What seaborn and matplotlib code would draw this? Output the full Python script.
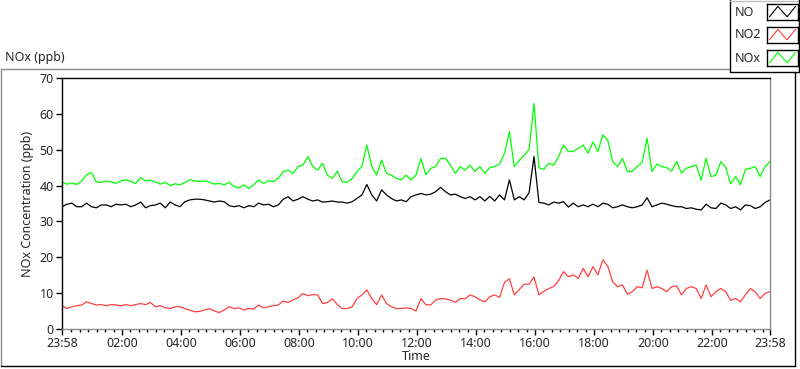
import numpy as np
import pandas as pd
import matplotlib
matplotlib.use("Agg")
import matplotlib.pyplot as plt
from matplotlib.lines import Line2D
import seaborn as sns

# ---------------- data (10-minute samples from 23:58 to 23:58) ----------------
minutes = list(range(0, 1441, 10))

no_ppb = [34.1, 34.8, 35.1, 34.1, 34.1, 35.1, 34.1, 33.8, 34.6, 34.6, 34.1, 34.8, 34.6, 34.8, 34.1, 34.6, 35.4, 33.8, 34.4, 34.6, 35.1, 33.8, 35.4, 34.6, 34.1, 35.5, 36.0, 36.2, 36.2,
          36.0, 35.7, 35.4, 35.7, 35.5, 34.4, 34.1, 34.4, 33.8, 34.4, 34.1, 35.1, 34.6, 34.8, 34.1, 34.6, 36.2, 36.9, 35.7, 36.2, 36.9, 36.2, 35.7, 36.0, 35.4, 35.5, 35.7, 35.4, 35.4,
          35.1, 35.5, 36.4, 37.4, 40.3, 37.4, 35.7, 38.8, 37.4, 36.4, 35.7, 36.0, 35.5, 36.9, 37.4, 37.8, 37.4, 37.6, 38.3, 39.5, 38.3, 37.4, 37.6, 36.9, 36.4, 36.9, 36.0, 36.9, 35.7,
          37.0, 35.7, 37.4, 36.0, 41.6, 36.0, 36.9, 36.0, 38.0, 48.1, 35.3, 35.1, 34.6, 35.4, 35.1, 35.5, 34.0, 35.1, 34.1, 34.6, 34.1, 34.8, 34.1, 35.1, 34.8, 33.8, 34.1, 34.6, 34.1,
          33.8, 34.1, 34.6, 36.6, 34.1, 34.6, 35.1, 34.8, 34.4, 34.1, 34.1, 33.6, 33.8, 33.4, 33.2, 34.8, 33.8, 33.6, 35.1, 34.6, 33.6, 34.1, 33.2, 34.6, 34.4, 33.6, 34.1, 35.3, 36.0]

no2_ppb = [6.5, 5.7, 6.2, 6.5, 6.7, 7.6, 7.1, 6.7, 6.8, 6.5, 6.8, 6.7, 6.5, 6.8, 6.5, 6.8, 7.1, 6.8, 7.4, 6.2, 6.5, 5.9, 5.7, 6.2, 6.2, 5.7, 5.2, 4.8, 4.9,
           5.3, 5.7, 5.0, 4.6, 5.3, 6.2, 5.7, 5.9, 5.3, 5.7, 5.6, 6.7, 5.9, 6.2, 6.5, 6.7, 7.8, 7.4, 8.1, 8.7, 9.9, 9.3, 9.6, 9.5, 7.1, 7.4, 8.4, 6.8, 5.7,
           5.7, 6.2, 8.5, 9.5, 10.9, 8.5, 6.8, 9.5, 7.1, 6.2, 5.7, 5.7, 5.9, 5.7, 5.0, 8.5, 6.8, 6.7, 8.1, 8.5, 8.4, 8.1, 7.4, 8.5, 8.4, 9.5, 9.0, 8.1, 7.6,
           9.0, 9.5, 8.8, 13.0, 14.0, 9.5, 11.0, 12.5, 12.5, 14.5, 9.5, 10.5, 11.3, 11.8, 13.5, 16.0, 14.6, 15.1, 14.1, 16.9, 14.6, 17.4, 15.1, 19.3, 17.5, 13.2, 11.8, 12.3, 9.7,
           10.4, 11.8, 11.5, 16.4, 11.3, 11.8, 11.3, 10.4, 11.8, 12.0, 9.5, 11.3, 11.8, 11.3, 8.5, 12.3, 9.0, 10.4, 11.3, 10.4, 8.0, 8.5, 7.6, 9.5, 11.3, 10.4, 8.5, 9.9, 10.4]

nox_ppb = [41.0, 40.4, 40.7, 40.3, 41.3, 43.0, 43.6, 41.0, 40.9, 41.3, 41.0, 40.6, 41.3, 41.6, 41.2, 40.6, 42.2, 41.3, 41.5, 41.0, 40.4, 40.9, 40.0, 40.5, 40.2, 40.8, 41.7, 41.3, 41.1,
           41.3, 40.9, 40.4, 40.6, 40.2, 40.9, 39.7, 39.4, 40.2, 39.2, 40.2, 41.6, 40.6, 41.3, 41.1, 42.0, 43.9, 44.3, 43.4, 45.3, 45.7, 48.1, 45.3, 44.3, 46.2, 42.9, 42.0, 44.0, 41.0,
           40.9, 42.0, 43.9, 45.3, 51.3, 45.3, 42.9, 47.1, 43.4, 42.9, 42.0, 41.6, 42.9, 41.6, 42.9, 47.5, 43.0, 44.8, 45.3, 47.6, 47.6, 45.7, 43.4, 45.3, 44.3, 45.7, 43.9, 45.3, 43.4,
           45.0, 45.3, 46.0, 49.0, 55.0, 45.3, 47.0, 48.5, 50.0, 62.9, 45.0, 44.5, 46.2, 45.7, 48.1, 51.3, 49.5, 49.5, 50.4, 51.3, 49.0, 52.2, 49.5, 54.1, 52.7, 46.7, 45.3, 47.6, 43.9,
           44.0, 45.3, 46.5, 53.2, 43.9, 46.0, 45.3, 45.0, 44.0, 46.7, 43.5, 44.8, 45.3, 45.7, 41.5, 47.6, 42.5, 42.9, 46.7, 45.0, 40.5, 42.5, 40.2, 44.5, 44.8, 45.3, 42.5, 45.3, 46.7]

series_names = ["NO", "NO2", "NOx"]
series_colors = ["#000000", "#FF4040", "#00FF00"]

tick_minutes = [0, 122, 242, 362, 482, 602, 722, 842, 962, 1082, 1202, 1322, 1440]
tick_labels = ["23:58", "02:00", "04:00", "06:00", "08:00", "10:00", "12:00",
               "14:00", "16:00", "18:00", "20:00", "22:00", "23:58"]
y_ticks = [0, 10, 20, 30, 40, 50, 60, 70]

df = pd.concat([
    pd.DataFrame({"minute": minutes, "value": vals, "series": name})
    for name, vals in zip(series_names, [no_ppb, no2_ppb, nox_ppb])
], ignore_index=True)

# ---------------- style ----------------
sns.set_style("white")
plt.rcParams["font.family"] = ["Noto Sans", "DejaVu Sans"]
FS = 9

W, H = 800, 369
fig = plt.figure(figsize=(W / 100, H / 100), dpi=100)
fig.patch.set_facecolor("white")

def fx(px):
    return px / W

def fy(py):
    return 1 - py / H

ax = fig.add_axes([fx(62), fy(329), fx(770) - fx(62), fy(78) - fy(329)])
sns.lineplot(data=df, x="minute", y="value", hue="series",
             palette=dict(zip(series_names, series_colors)),
             hue_order=series_names, estimator=None, legend=False,
             linewidth=0.9, ax=ax)

ax.set_xlim(0, 1440)
ax.set_ylim(0, 70)
ax.set_yticks(y_ticks)
ax.set_yticklabels([str(v) for v in y_ticks], fontsize=FS)
ax.set_xticks(tick_minutes)
ax.set_xticklabels(tick_labels, fontsize=FS)
minor = [m for m in np.arange(2, 1441, 120 / 7) if 2 < m < 1438]
ax.set_xticks(minor, minor=True)
ax.tick_params(axis="both", which="major", length=4, width=1, color="black",
               pad=2, direction="out")
ax.tick_params(axis="x", which="minor", length=2.5, width=1, color="black",
               direction="out", bottom=True)
ax.tick_params(axis="y", which="both", left=True)
ax.tick_params(axis="x", which="both", bottom=True)
ax.set_xlabel("Time", fontsize=FS, labelpad=0)
ax.set_ylabel("NOx Concentration (ppb)", fontsize=FS, labelpad=4)
for side, col in [("left", "black"), ("top", "black"), ("right", "#8a8a8a"), ("bottom", "#8a8a8a")]:
    ax.spines[side].set_visible(True)
    ax.spines[side].set_color(col)
    ax.spines[side].set_linewidth(1.0)
ax.grid(False)

# ---------------- outer frame ----------------
def fline(x0, y0, x1, y1, color, lw=1.0):
    fig.add_artist(Line2D([fx(x0), fx(x1)], [fy(y0), fy(y1)], color=color,
                          linewidth=lw, transform=fig.transFigure))

fline(1, 69, 730, 69, "#8a8a8a")
fline(1, 69, 1, 366, "#8a8a8a")
fline(1, 366, 795, 366, "black")
fline(795, 72, 795, 366, "black")

fig.text(fx(5), fy(58), "NOx (ppb)", fontsize=FS, ha="left", va="center")

# ---------------- legend ----------------
fline(730, 0, 730, 72, "black")
fline(730, 72, 799, 72, "black")
fline(730, 0.5, 799, 0.5, "#bfbfbf")
fline(799, 0, 799, 72, "black")
legend_y = [12, 35, 58]
for name, col, yc in zip(series_names, series_colors, legend_y):
    fig.text(fx(735), fy(yc), name, fontsize=FS, ha="left", va="center")
    sw = fig.add_axes([fx(767), fy(yc + 8), fx(798) - fx(767), fy(yc - 8) - fy(yc + 8)])
    sw.plot([0.08, 0.35, 0.65, 0.92], [0.2, 0.85, 0.2, 0.85], color=col, linewidth=0.8)
    sw.set_xlim(0, 1)
    sw.set_ylim(0, 1)
    sw.set_xticks([])
    sw.set_yticks([])
    for s in sw.spines.values():
        s.set_visible(True)
        s.set_color("black")
        s.set_linewidth(1.0)
    sw.set_facecolor("white")

fig.savefig("out.png", dpi=100)
